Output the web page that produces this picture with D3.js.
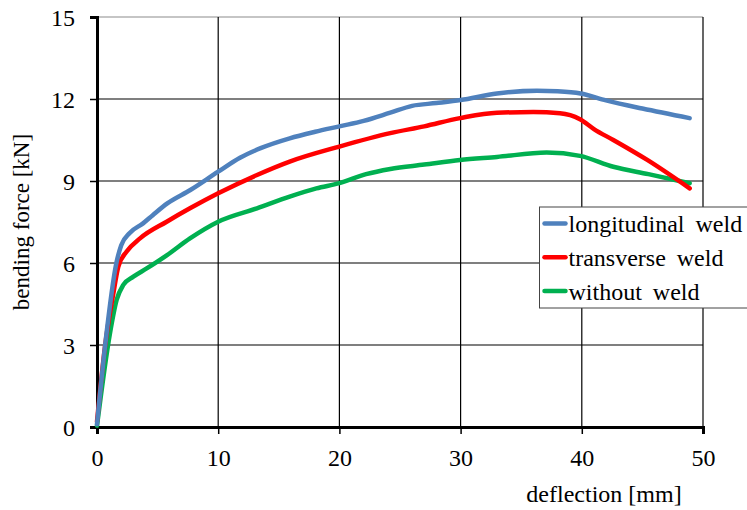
<!DOCTYPE html>
<html>
<head>
<meta charset="utf-8">
<script src="https://cdn.jsdelivr.net/npm/d3@7"></script>
<style>
  body { margin: 0; background: #fff; }
  svg { display: block; }
</style>
</head>
<body>
<svg id="chart" width="747" height="510"></svg>
<script>
// data
const xTicks = [0, 10, 20, 30, 40, 50];
const yTicks = [0, 3, 6, 9, 12, 15];

const longX = [0, 0.7, 1.6, 2.0, 2.7, 3.8, 4.6, 5.8, 7.7, 10, 11.8, 13.5, 15.9, 18, 20, 22, 24.2, 26, 28, 30, 33, 36.3, 38, 39.9, 42, 45, 48.9];
const longY = [0.1, 3.1, 6.0, 6.65, 7.1, 7.45, 7.75, 8.18, 8.67, 9.34, 9.85, 10.2, 10.56, 10.8, 11.0, 11.2, 11.5, 11.75, 11.85, 11.96, 12.2, 12.3, 12.28, 12.2, 11.95, 11.65, 11.3];

const transX = [0, 0.66, 1.35, 1.76, 2.45, 3.55, 5.75, 7.67, 10, 13.2, 15.9, 20, 24.2, 27, 29.95, 33, 36, 38.2, 39.85, 41, 42.6, 45.4, 48.9];
const transY = [0.2, 2.94, 4.89, 5.87, 6.42, 6.9, 7.51, 8.0, 8.55, 9.22, 9.71, 10.26, 10.75, 11.0, 11.3, 11.5, 11.52, 11.48, 11.26, 10.9, 10.5, 9.77, 8.73];

const noneX = [0, 1.07, 1.62, 2.17, 3.0, 4.1, 5.75, 7.67, 10, 13.2, 15.9, 18.1, 20, 22.2, 24.2, 27, 29.95, 33, 37.1, 39.85, 42.6, 45.5, 48.9];
const noneY = [0.05, 3.43, 4.65, 5.2, 5.5, 5.8, 6.28, 6.9, 7.51, 8.0, 8.43, 8.73, 8.92, 9.25, 9.44, 9.6, 9.77, 9.88, 10.04, 9.92, 9.52, 9.25, 8.92];

const seriesNames = ["longitudinal weld", "transverse weld", "without weld"];
const seriesColors = ["#4F81BD", "#FF0000", "#00B050"];

const series = [
  { name: seriesNames[0], color: seriesColors[0], pts: longX.map((x, i) => [x, longY[i]]) },
  { name: seriesNames[1], color: seriesColors[1], pts: transX.map((x, i) => [x, transY[i]]) },
  { name: seriesNames[2], color: seriesColors[2], pts: noneX.map((x, i) => [x, noneY[i]]) }
];

const serif = "'Liberation Serif', 'Times New Roman', serif";
const svg = d3.select("#chart");
const mLeft = 97, mRight = 703, mTop = 17, mBottom = 427;

const x = d3.scaleLinear().domain([0, 50]).range([mLeft, mRight]);
const y = d3.scaleLinear().domain([0, 15]).range([mBottom, mTop]);

// grid
svg.append("g").selectAll("line")
  .data(yTicks.filter(d => d > 0))
  .join("line")
  .attr("x1", mLeft).attr("x2", mRight)
  .attr("y1", d => y(d)).attr("y2", d => y(d))
  .attr("stroke", d => d === 15 ? "#8c8c8c" : "#000")
  .attr("stroke-width", 1.2);

svg.append("g").selectAll("line")
  .data(xTicks.filter(d => d > 0))
  .join("line")
  .attr("x1", d => x(d)).attr("x2", d => x(d))
  .attr("y1", mTop).attr("y2", mBottom)
  .attr("stroke", "#000")
  .attr("stroke-width", 1.2);

// axes
const xAxis = svg.append("g")
  .attr("transform", `translate(0,${mBottom})`)
  .call(d3.axisBottom(x).tickValues(xTicks).tickSize(7).tickPadding(15));
const yAxis = svg.append("g")
  .attr("transform", `translate(${mLeft},0)`)
  .call(d3.axisLeft(y).tickValues(yTicks).tickSize(7).tickPadding(15));

[xAxis, yAxis].forEach(g => {
  g.attr("font-family", serif).attr("font-size", 24);
  g.select(".domain").attr("stroke", "#000").attr("stroke-width", 3);
  g.selectAll(".tick line").attr("stroke", "#000").attr("stroke-width", 1.5);
  g.selectAll("text").attr("fill", "#000");
});
yAxis.selectAll("text").attr("dy", "0.34em");

// curves
const line = d3.line()
  .x(d => x(d[0]))
  .y(d => y(d[1]))
  .curve(d3.curveMonotoneX);

svg.append("g").selectAll("path")
  .data(series.slice().reverse())
  .join("path")
  .attr("d", d => line(d.pts))
  .attr("fill", "none")
  .attr("stroke", d => d.color)
  .attr("stroke-width", 4.5)
  .attr("stroke-linejoin", "round")
  .attr("stroke-linecap", "round");

// axis titles
svg.append("text")
  .attr("x", 604).attr("y", 502)
  .attr("text-anchor", "middle")
  .attr("font-family", serif)
  .attr("font-size", 24)
  .text("deflection [mm]");

svg.append("text")
  .attr("transform", "translate(29,222) rotate(-90)")
  .attr("text-anchor", "middle")
  .attr("font-family", serif)
  .attr("font-size", 23)
  .text("bending force [kN]");

// legend
const lg = svg.append("g").attr("transform", "translate(539.5,207)");
lg.append("rect")
  .attr("x", 0).attr("y", 0)
  .attr("width", 230).attr("height", 101)
  .attr("fill", "#fff")
  .attr("stroke", "#444")
  .attr("stroke-width", 1);

const rows = lg.selectAll("g.row")
  .data(series)
  .join("g")
  .attr("class", "row")
  .attr("transform", (d, i) => `translate(0,${16.5 + i * 33.7})`);

rows.append("line")
  .attr("x1", 5).attr("x2", 26)
  .attr("stroke", d => d.color)
  .attr("stroke-width", 4.5)
  .attr("stroke-linecap", "round");

rows.append("text")
  .attr("x", 29).attr("dy", "0.36em")
  .attr("font-family", serif)
  .attr("font-size", 24)
  .attr("word-spacing", 5)
  .text(d => d.name);
</script>
</body>
</html>
